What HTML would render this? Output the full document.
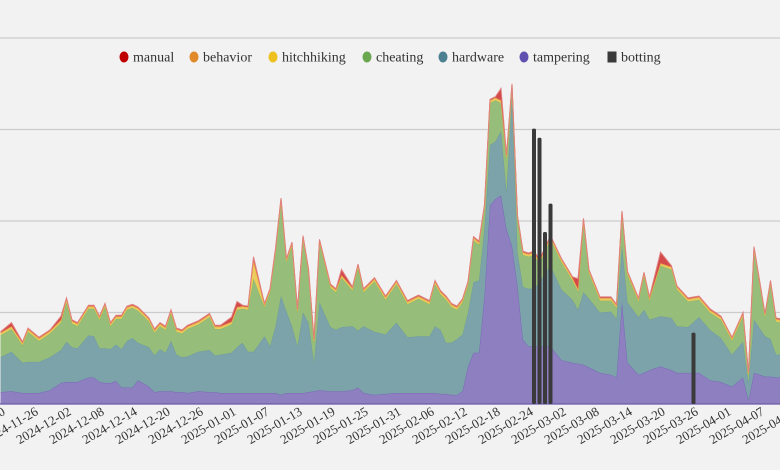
<!DOCTYPE html>
<html><head><meta charset="utf-8"><style>
html,body{margin:0;padding:0;background:#f2f2f2;}
svg{display:block;font-family:"Liberation Serif",serif;}
</style></head><body>
<svg id="chart" width="780" height="470" viewBox="0 0 780 470" xmlns="http://www.w3.org/2000/svg">
<rect x="0" y="0" width="780" height="470" fill="#f2f2f2"/>
<g id="grid"></g>
<g id="areas"></g>
<g id="bars"></g>
<g id="xaxis"></g>
<g id="legend"></g>
</svg>
<script>
const days = [-13,-11,-9,-8,-6,-4,-2,-1,0,1, 3,4,5,6,7,8,9,10,11,12, 14,15,16,17,18,19,20,21,23,25, 26,27,29,30,31,32,33,35,36,37, 38,39,40,41,42,43,44,45,47,48, 49,51,52,53,55,57,59,61,63,65, 66,67,68,69,70,71,72,73,74,75, 76,77,78,79,80,81,82,83,84,85, 87,89,91,92,93,94,96,98,99,100, 101,103,104,105,107,109,110,112,114,116, 118,120,122,123,124,126,127,128,129];
const tampering = [13,14,12,12,12,15,23,24,24,24, 29,29,24,23,23,25,18,18,18,26, 19,13,14,14,14,13,13,12,14,13, 13,12,12,12,12,12,12,12,12,12, 10,12,12,12,12,13,14,15,14,14, 14,15,18,12,10,11,12,12,12,12, 12,11,11,10,10,14,41,56,56,118, 217,224,228,191,173,129,70,63,63,63, 63,48,45,44,43,40,34,32,29,111, 45,32,34,37,41,37,34,34,34,26, 24,19,29,4,34,30,30,29,29];
const hardware = [38,43,33,34,34,36,36,44,38,37, 46,45,37,38,37,40,42,51,54,41, 43,40,46,42,55,41,38,40,43,46, 40,42,44,50,55,45,45,62,51,73, 108,89,73,51,88,76,31,96,70,67, 70,70,62,73,69,65,77,61,62,62, 73,70,56,57,61,62,59,77,79,74, 66,63,70,41,162,37,58,63,63,70, 88,77,69,59,79,75,66,69,64,62, 66,63,69,55,55,57,51,50,61,55, 48,35,39,19,58,44,41,25,25];
const cheating = [24,25,19,33,23,26,30,43,26,24, 29,30,31,45,25,28,33,34,33,35, 28,25,25,25,30,25,26,30,30,36, 29,28,31,41,37,46,80,32,59,81, 103,54,88,37,80,55,22,65,43,41, 54,39,69,37,55,38,42,36,41,35, 46,39,47,39,32,35,30,46,39,22, 46,45,31,36,11,36,35,35,37,20, 29,30,21,20,77,28,13,12,12,34, 30,17,37,21,55,53,40,28,19,19, 20,15,28,8,76,21,60,36,35];
const hitchhiking = [2,2,2,2,2,2,2,3,2,2, 2,2,2,2,2,2,2,2,2,2, 2,2,2,2,2,2,2,2,2,2, 2,2,2,2,2,2,18,2,2,2, 2,2,2,2,2,2,2,2,2,2, 2,2,2,2,2,2,2,2,2,2, 2,2,2,2,2,2,2,2,2,2, 2,2,2,2,2,2,2,2,2,2, 2,2,2,2,2,2,2,2,2,2, 2,2,2,2,2,2,2,2,2,2, 2,2,2,2,2,2,2,2,2];
const behavior = [1,1,1,1,1,1,1,1,1,1, 1,1,1,1,1,1,1,1,1,1, 1,1,1,1,1,1,1,1,1,1, 1,1,1,1,1,1,2,1,1,1, 1,1,1,1,1,1,1,1,1,1, 1,1,1,1,1,1,1,1,1,1, 1,1,1,1,1,1,1,1,1,1, 1,1,1,1,1,1,1,1,1,1, 1,1,1,1,1,1,1,1,1,1, 1,1,1,1,1,1,1,1,1,1, 1,1,1,1,1,1,1,1,1];
const manual = [1,4,1,1,1,1,4,1,1,1, 1,1,1,1,1,1,1,1,1,1, 1,1,1,1,1,1,1,1,1,1, 1,1,5,6,1,1,4,1,1,1, 1,1,1,1,1,1,1,1,1,1, 6,1,1,1,1,1,1,1,1,1, 1,1,1,1,1,1,1,1,1,1, 1,1,13,1,1,1,1,1,1,2, 1,1,1,11,1,1,1,1,1,1, 1,1,1,1,12,1,1,1,1,1, 1,1,1,1,1,1,1,1,1];
const bottingDays = [84,85,86,87,113];
const bottingValues = [301,291,188,219,78];
const tickLabels = ["2024-11-20","2024-11-26","2024-12-02","2024-12-08","2024-12-14","2024-12-20","2024-12-26","2025-01-01","2025-01-07","2025-01-13","2025-01-19","2025-01-25","2025-01-31","2025-02-06","2025-02-12","2025-02-18","2025-02-24","2025-03-02","2025-03-08","2025-03-14","2025-03-20","2025-03-26","2025-04-01","2025-04-07","2025-04-13"];
const yTicks = [0,100,200,300,400];

const NS = "http://www.w3.org/2000/svg";
const BASE = Date.UTC(2024,11,2);
function xScale(d){ return 72 + d*5.5; }
function yScale(v){ return 404 - v*0.915; }
function dayOf(s){ const p=s.split("-"); return (Date.UTC(+p[0],+p[1]-1,+p[2])-BASE)/86400000; }
function mk(tag, attrs, parent){ const e=document.createElementNS(NS,tag); for(const k in attrs) e.setAttribute(k,attrs[k]); parent.appendChild(e); return e; }

const grid = document.getElementById('grid');
yTicks.forEach(t=>{
  if(t===0) return;
  const l = mk('line',{x1:0,x2:780,y1:yScale(t),y2:yScale(t),stroke:'#cbcbcb','stroke-width':1.2},grid);
  
  
});

const layers = [
  {name:'tampering', vals:tampering, fill:'#8e80c0', stroke:'#7a68b8'},
  {name:'hardware', vals:hardware, fill:'#7ca3aa', stroke:'#6f9aa3'},
  {name:'cheating', vals:cheating, fill:'#96bd7a', stroke:'#8ab86c'},
  {name:'hitchhiking', vals:hitchhiking, fill:'#eccc5c', stroke:'#eac24a'},
  {name:'behavior', vals:behavior, fill:'#e8a868', stroke:'#e49a50'},
  {name:'manual', vals:manual, fill:'#d44a4a', stroke:'#e08080'}
];
const areas = document.getElementById('areas');
let cum = days.map(()=>0);
layers.forEach(L=>{
  const lower = cum.slice();
  const upper = cum.map((c,i)=>c+L.vals[i]);
  let d = '';
  days.forEach((dd,i)=>{ d += (i?'L':'M') + xScale(dd).toFixed(1)+','+yScale(upper[i]).toFixed(1); });
  for(let i=days.length-1;i>=0;i--) d += 'L'+xScale(days[i]).toFixed(1)+','+yScale(lower[i]).toFixed(1);
  d += 'Z';
  const p = mk('path',{d:d,fill:L.fill,stroke:'none'},areas);
  
  
  let ld='';
  days.forEach((dd,i)=>{ ld += (i?'L':'M') + xScale(dd).toFixed(1)+','+yScale(upper[i]).toFixed(1); });
  const ln = mk('path',{d:ld,fill:'none',stroke:L.stroke,'stroke-width':1},areas);
  
  
  cum = upper;
});
const axl = mk('line',{x1:0,x2:780,y1:404,y2:404,stroke:'#6a5aa8','stroke-width':1.2},areas);



const bars = document.getElementById('bars');
bottingDays.forEach((d,i)=>{
  const x = xScale(d), y = yScale(bottingValues[i]);
  const r = mk('rect',{x:x-2,y:y,width:4,height:404-y,fill:'#3a3a3a',rx:1.5},bars);
  
  
});

const xaxis = document.getElementById('xaxis');
tickLabels.forEach(s=>{
  const x = xScale(dayOf(s));
  const t = mk('text',{x:x,y:414,'text-anchor':'end','font-size':13,fill:'#333',transform:'rotate(-30 '+x+' 414)'},xaxis);
  t.textContent = s;
  
  
});

const legendItems = [
  {name:'manual', color:'#c00000', x:124, shape:'circle'},
  {name:'behavior', color:'#e08a2a', x:194, shape:'circle'},
  {name:'hitchhiking', color:'#eec020', x:273, shape:'circle'},
  {name:'cheating', color:'#6aa84f', x:367, shape:'circle'},
  {name:'hardware', color:'#4a8090', x:443, shape:'circle'},
  {name:'tampering', color:'#6050b0', x:524, shape:'circle'},
  {name:'botting', color:'#3a3a3a', x:612, shape:'rect'}
];
const legend = document.getElementById('legend');
legendItems.forEach(it=>{
  const g = mk('g',{},legend);
  
  
  if(it.shape==='circle') mk('ellipse',{cx:it.x,cy:57,rx:4.5,ry:5.5,fill:it.color},g);
  else mk('rect',{x:it.x-4.5,y:51.5,width:9,height:11,fill:it.color},g);
  const t = mk('text',{x:it.x+9,y:61.5,'font-size':14,fill:'#333'},g);
  t.textContent = it.name;
});
</script>
</body></html>
